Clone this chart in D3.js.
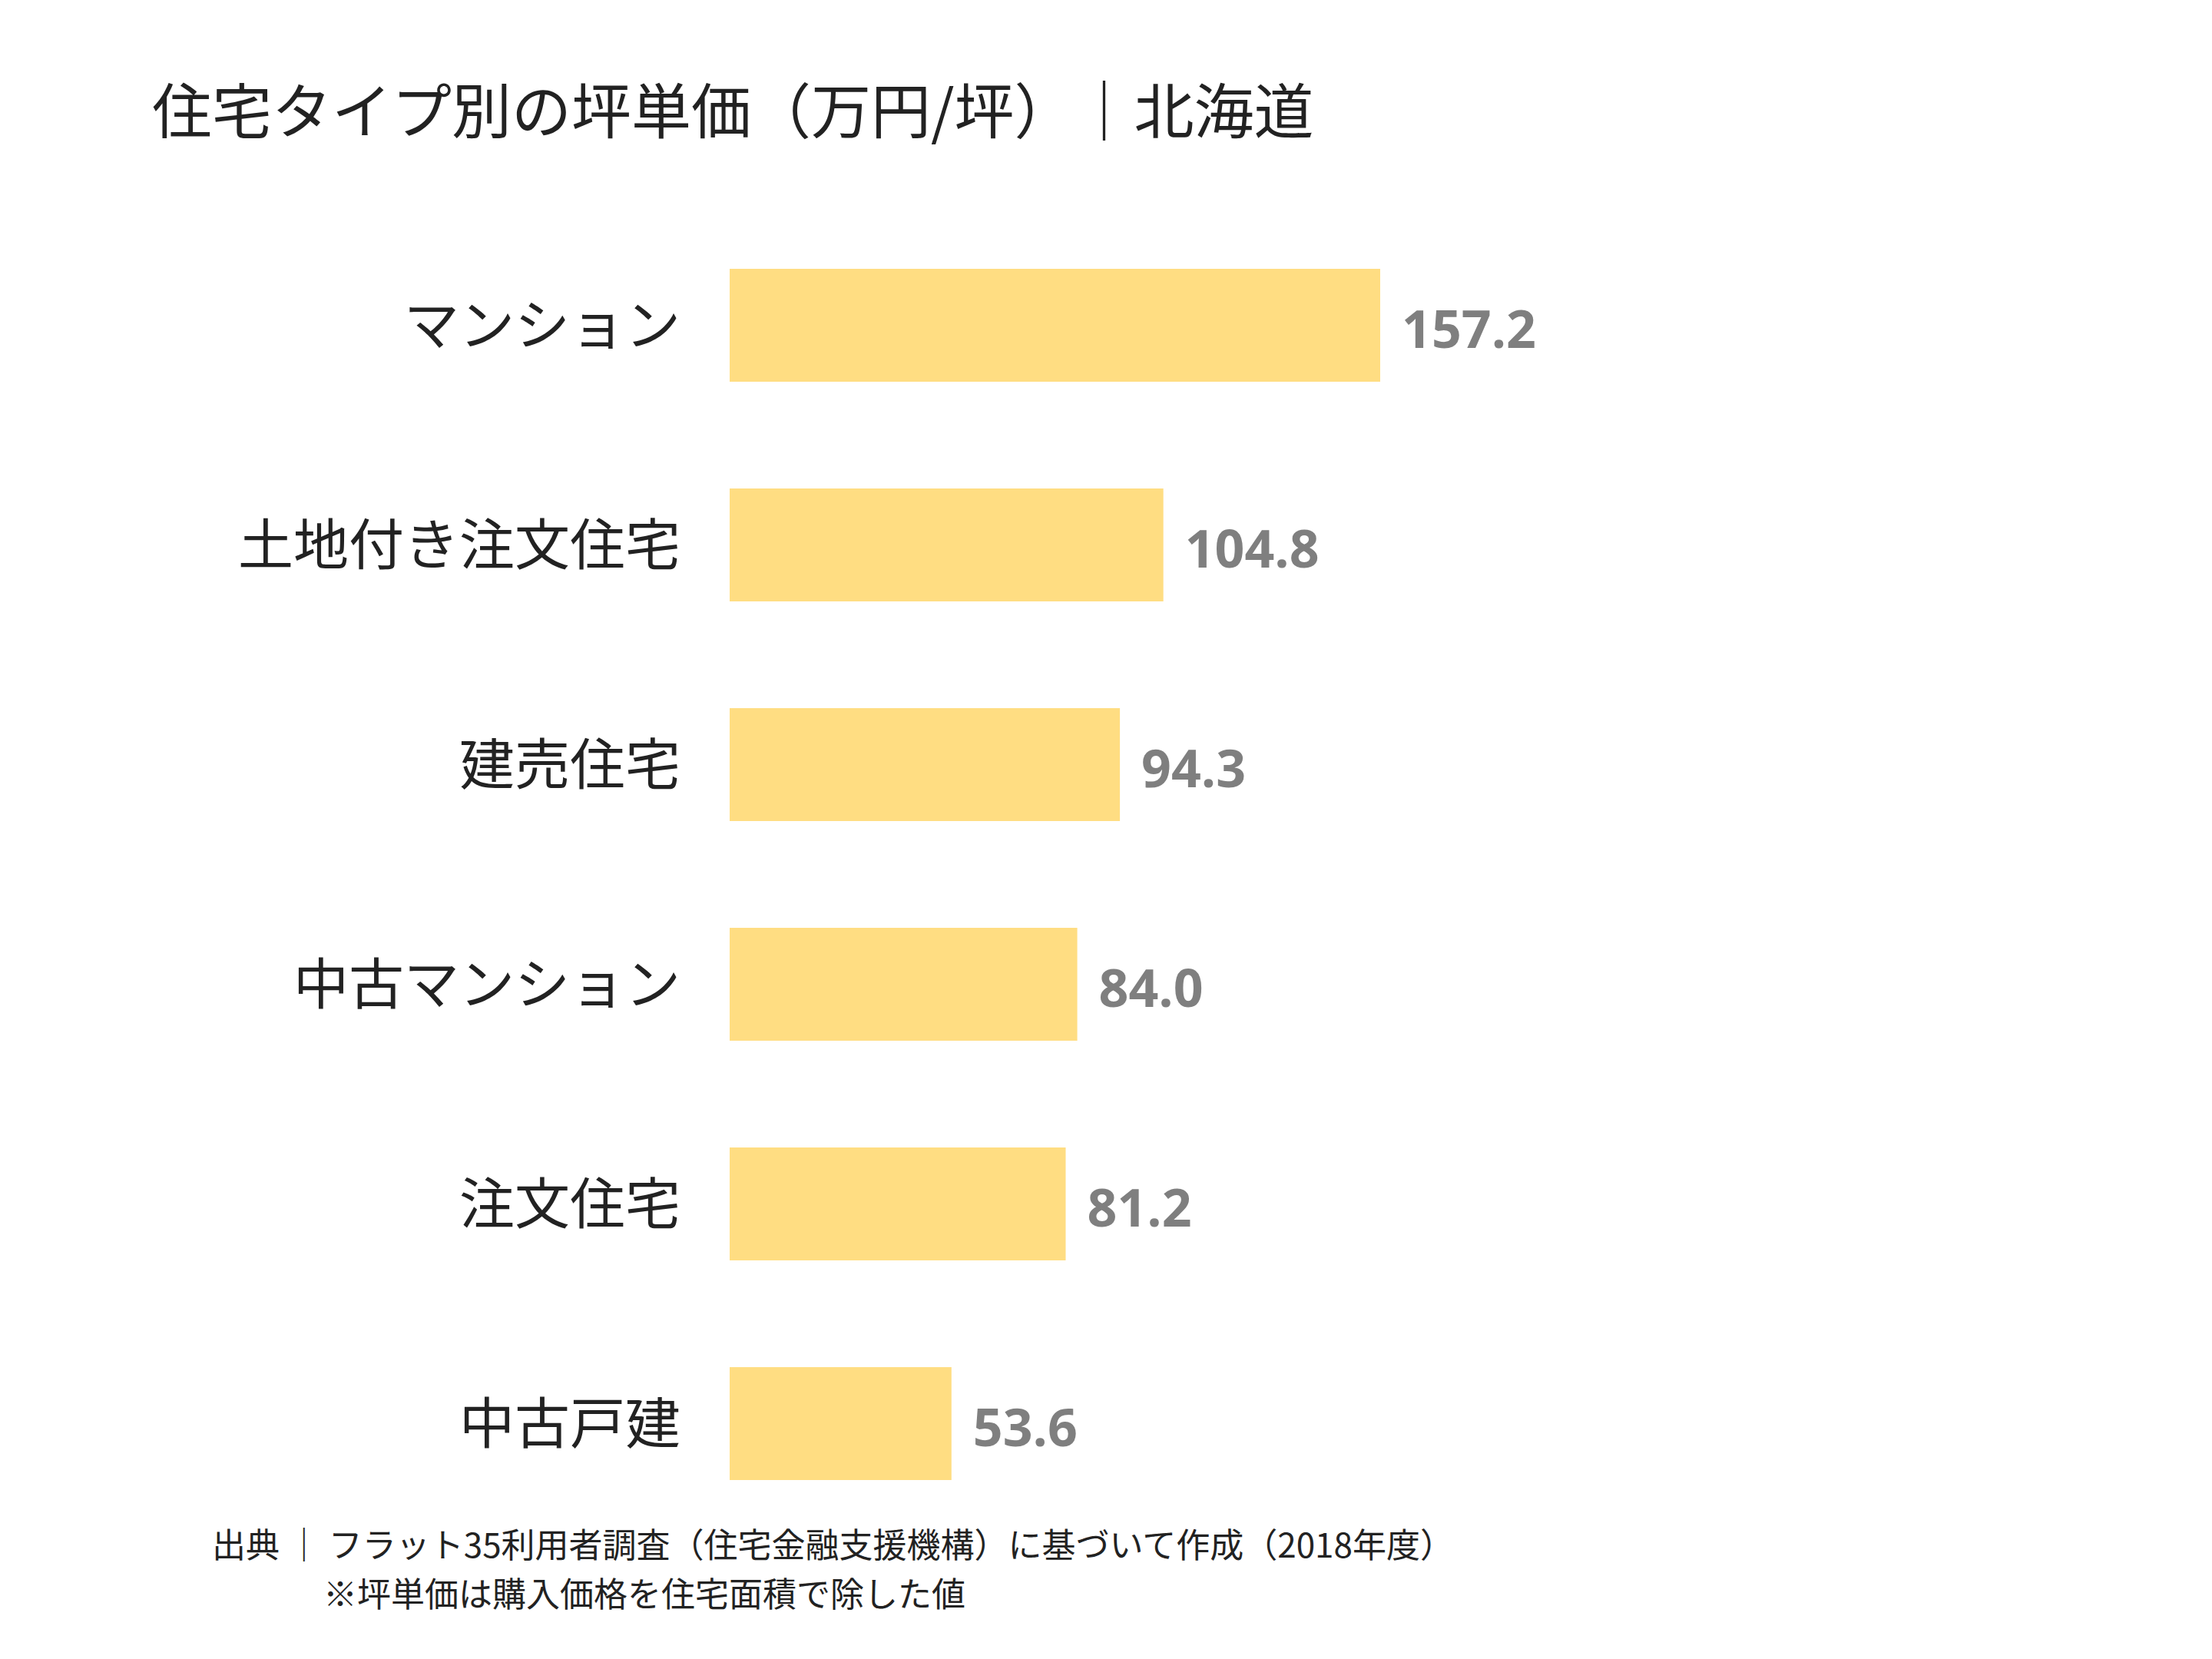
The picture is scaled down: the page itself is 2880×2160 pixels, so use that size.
<!DOCTYPE html>
<html><head><meta charset="utf-8">
<script src="https://cdn.jsdelivr.net/npm/d3@7"></script>
<style>body{margin:0;background:#fff}</style>
</head><body>
<script>
// data
const categories = ["マンション", "土地付き注文住宅", "建売住宅", "中古マンション", "注文住宅", "中古戸建"];
const values = [157.2, 104.8, 94.3, 84.0, 81.2, 53.6];
const title = "住宅タイプ別の坪単価（万円/坪）｜北海道";
const notes = ["出典 ｜ フラット35利用者調査（住宅金融支援機構）に基づいて作成（2018年度）", "※坪単価は購入価格を住宅面積で除した値"];

const W = 2880, H = 2160;
const font = "'Noto Sans CJK JP', 'Noto Sans', sans-serif";
const svg = d3.select("body").append("svg").attr("width", W).attr("height", H);

svg.append("text").attr("x", 198).attr("y", 174)
    .style("font-family", font).style("font-size", "78px").style("fill", "#222")
    .text(title);

const x = d3.scaleLinear().domain([0, 157.2]).range([950, 1797]);
// step 286px, bar 147px
const y = d3.scaleBand().domain(categories).range([350, 350 + 286 * 5 + 147]).paddingInner(139 / 286).paddingOuter(0);

svg.selectAll("rect.bar").data(values).enter().append("rect")
    .attr("class", "bar")
    .attr("x", x(0))
    .attr("y", (d, i) => y(categories[i]))
    .attr("width", d => x(d) - x(0))
    .attr("height", y.bandwidth())
    .attr("fill", "#FFDD82");

svg.selectAll("text.cat").data(categories).enter().append("text")
    .attr("class", "cat")
    .attr("x", 886)
    .attr("y", d => y(d) + y.bandwidth() / 2)
    .attr("dy", "0.35em")
    .attr("text-anchor", "end")
    .style("font-family", font).style("font-size", "72px").style("fill", "#222")
    .text(d => d);

svg.selectAll("text.val").data(values).enter().append("text")
    .attr("class", "val")
    .attr("x", d => x(d) + 28)
    .attr("y", (d, i) => y(categories[i]) + y.bandwidth() / 2 + 6)
    .attr("dy", "0.35em")
    .style("font-family", "'Open Sans', 'Noto Sans', sans-serif").style("font-weight", "bold")
    .style("font-size", "68px").style("fill", "#7f7f7f")
    .text(d => d.toFixed(1));

svg.append("text").attr("x", 276).attr("y", 2028)
    .style("font-family", font).style("font-size", "44px").style("fill", "#222")
    .text(notes[0]);
svg.append("text").attr("x", 421).attr("y", 2092)
    .style("font-family", font).style("font-size", "44px").style("fill", "#222")
    .text(notes[1]);
</script>
</body></html>
